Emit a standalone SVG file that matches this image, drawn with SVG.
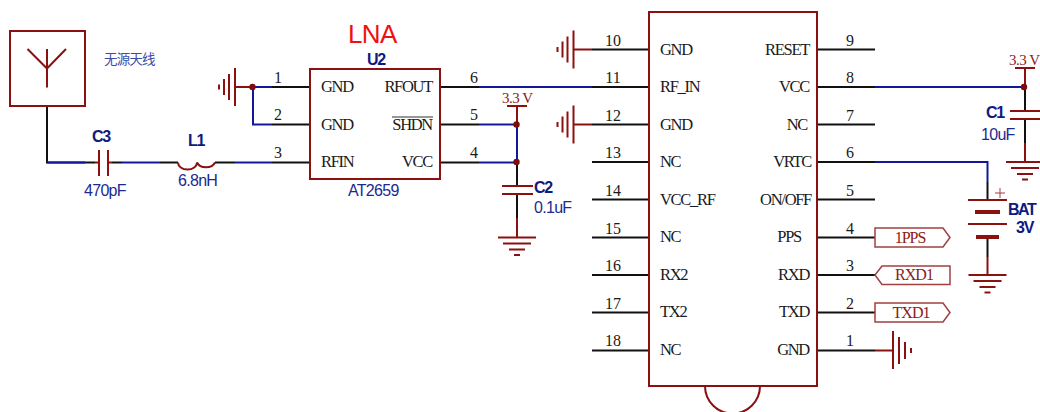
<svg xmlns="http://www.w3.org/2000/svg" width="1040" height="412" viewBox="0 0 1040 412">
<style>
text{font-family:"Liberation Serif","Noto Sans CJK SC",serif;white-space:pre}
.pn{font-size:16.500px;fill:#1a1a1a;letter-spacing:-1.300px}
.num{font-size:16px;fill:#1a1a1a;text-anchor:middle}
.e{text-anchor:end}
.des{font-family:"Liberation Sans",sans-serif;font-size:16px;font-weight:700;fill:#0e1a80;letter-spacing:-1.200px}
.val{font-family:"Liberation Sans",sans-serif;font-size:16px;fill:#1c2a90;letter-spacing:-.7px}
.title{font-family:"Liberation Sans",sans-serif;font-size:26px;fill:#f01010;letter-spacing:-.6px}
.cn{font-size:13.500px;fill:#3c4aa8;letter-spacing:-.8px}
.pwr{font-size:15px;fill:#8b1a1a;letter-spacing:-.5px}
.port{font-size:16px;fill:#8b1a1a;text-anchor:middle;letter-spacing:-1px}
.box{fill:#fff;stroke:#8b1010;stroke-width:2}
.portbox{fill:#fff;stroke:#a04040;stroke-width:1.500}
.k,.b,.r{fill:none;stroke-width:2}
.k{stroke:#111}
.b{stroke:#12189a}
.r{stroke:#8b1010}
.thick{stroke-width:4}
.j{fill:#7d0b0b}
</style>
<defs>
<g id="gndL"><path class="r" d="M0-19V19M-6-13V13M-11-8V8M-16-2.500V2.500"/></g>
<g id="gndD"><path class="r" d="M-19 0H19M-14 6H14M-8 12H8M-3 17.500H3"/></g>
</defs>
<g id="connectors">
<path class="k" d="M47 106V162.500H85M85 162.500H95M112 162.500H122M160 162.500H178M215 162.500H235M272 162.500H310"/>
<path class="b" d="M47 162.500H85M122 162.500H160M235 162.500H272"/>
<path class="r" d="M95 162.500H99M108 162.500H112"/>
<path class="r" d="M236 87H252.500"/>
<path class="b" d="M252.500 87H272M253 87V124.500H272"/>
<path class="k" d="M272 87H310M272 124.500H310"/>
<path class="k" d="M440 87H479M440 124.500H479M440 162.500H479"/>
<path class="b" d="M479 87H592M479 124.500H517M479 162.500H517M517 124.500V162.500"/>
<path class="r" d="M517 106V124.500"/>
<path class="k" d="M517 162.500V186M517 194V218"/>
<path class="r" d="M517 218V238"/>
<path class="k" d="M592 49.500H649M592 87H649M592 124.500H649M592 162H649M592 199.500H649M592 237.500H649M592 275H649M592 312.500H649M592 350.500H649"/>
<path class="k" d="M817 49.500H875M817 87H875M817 124.500H875M817 162H875M817 199.500H875M817 237.500H875M817 275H875M817 312.500H875M817 350.500H875"/>
<path class="r" d="M574 49.500H592M574 124.500H592M875 350.500H893"/>
<path class="b" d="M875 87H1024M875 162H987.500V182"/>
<path class="r" d="M1025 68V87"/>
<path class="k" d="M1025 87V111M1025 119V143M987.500 182V200M987.500 238V257"/>
<path class="r" d="M1025 143V162M987.500 257V275"/>
</g>
<g id="antenna">
<rect class="box" x="10" y="31" width="75" height="75"/>
<path class="r" d="M27.500 49L47 68.500L66 49M47 49V87.500"/>
<text class="cn" x="104" y="64">无源天线</text>
</g>
<g id="C3">
<path class="r" d="M99 150V176M108 150V176"/>
<text class="des" x="92" y="142">C3</text>
<text class="val" x="84" y="196">470pF</text>
</g>
<g id="L1">
<path class="r" d="M178 162.500a9.500 7 0 0 0 19 0a9.500 7 0 0 0 18 0"/>
<text class="des" x="188" y="146">L1</text>
<text class="val" x="178" y="186">6.8nH</text>
</g>
<g id="gnd-u2"><use href="#gndL" x="235" y="87"/><circle class="j" cx="252.500" cy="87" r="3.200"/></g>
<g id="U2">
<rect class="box" x="310" y="69" width="130" height="110"/>
<text class="title" x="348" y="43">LNA</text>
<text class="des" x="367" y="65">U2</text>
<text class="val" x="348" y="196">AT2659</text>
<text class="pn" x="321" y="92">GND</text><text class="pn" x="321" y="130">GND</text><text class="pn" x="321" y="167">RFIN</text>
<text class="pn e" x="432" y="92">RFOUT</text><text class="pn e" x="432" y="130">SHDN</text><text class="pn e" x="432" y="167">VCC</text>
<path d="M392 117H433" stroke="#333" stroke-width="1" fill="none"/>
<text class="num" x="278" y="83">1</text><text class="num" x="278" y="120">2</text><text class="num" x="278" y="158">3</text>
<text class="num" x="474" y="83">6</text><text class="num" x="474" y="120">5</text><text class="num" x="474" y="158">4</text>
</g>
<g id="pwr-u2">
<path class="r" d="M507 106H527"/>
<text class="pwr" x="502" y="103">3.3 V</text>
<circle class="j" cx="516.500" cy="124.500" r="3.200"/><circle class="j" cx="516.500" cy="162" r="3.200"/>
</g>
<g id="C2">
<path class="r" d="M502 186H533M502 194H533"/>
<text class="des" x="534" y="193">C2</text>
<text class="val" x="534" y="213">0.1uF</text>
<use href="#gndD" x="517" y="237.500"/>
</g>
<g id="gnd-10"><use href="#gndL" x="573.500" y="49.500"/></g>
<g id="gnd-12"><use href="#gndL" x="573.500" y="124.500"/></g>
<g id="module">
<rect class="box" x="649" y="12" width="168" height="374"/>
<path class="r" d="M705 386a27.500 27.500 0 0 0 55 0"/>
<text class="pn" x="660" y="55">GND</text><text class="pn" x="660" y="92">RF_IN</text><text class="pn" x="660" y="130">GND</text><text class="pn" x="660" y="167">NC</text><text class="pn" x="660" y="205">VCC_RF</text><text class="pn" x="660" y="242">NC</text><text class="pn" x="660" y="280">RX2</text><text class="pn" x="660" y="317">TX2</text><text class="pn" x="660" y="355">NC</text>
<text class="pn e" x="809" y="55">RESET</text><text class="pn e" x="809" y="92">VCC</text><text class="pn e" x="807" y="130">NC</text><text class="pn e" x="811" y="167">VRTC</text><text class="pn e" x="811" y="205">ON/OFF</text><text class="pn e" x="801" y="242">PPS</text><text class="pn e" x="809" y="280">RXD</text><text class="pn e" x="809" y="317">TXD</text><text class="pn e" x="809" y="355">GND</text>
<text class="num" x="613" y="46">10</text><text class="num" x="613" y="83">11</text><text class="num" x="613" y="121">12</text><text class="num" x="613" y="158">13</text><text class="num" x="613" y="196">14</text><text class="num" x="613" y="234">15</text><text class="num" x="613" y="271">16</text><text class="num" x="613" y="309">17</text><text class="num" x="613" y="346">18</text>
<text class="num" x="850" y="46">9</text><text class="num" x="850" y="83">8</text><text class="num" x="850" y="121">7</text><text class="num" x="850" y="158">6</text><text class="num" x="850" y="196">5</text><text class="num" x="850" y="234">4</text><text class="num" x="850" y="271">3</text><text class="num" x="850" y="309">2</text><text class="num" x="850" y="346">1</text>
</g>
<g id="port-1PPS"><path class="portbox" d="M875 228H943L950 237.500L943 247H875Z"/><text class="port" x="910" y="243">1PPS</text></g>
<g id="port-RXD1"><path class="portbox" d="M950 266H882L875 275L882 284.500H950Z"/><text class="port" x="914" y="280">RXD1</text></g>
<g id="port-TXD1"><path class="portbox" d="M875 303H943L950 312.500L943 322H875Z"/><text class="port" x="911" y="318">TXD1</text></g>
<g id="gnd-1"><path class="r" d="M893 331V369M899 337V364M905 342V359M911 348V353"/></g>
<g id="C1">
<circle class="j" cx="1024" cy="87" r="3.200"/>
<path class="r" d="M1015 68H1035M1010 111H1040M1010 119H1040"/>
<text class="pwr" x="1009" y="65">3.3 V</text>
<text class="des" x="986" y="118">C1</text>
<text class="val" x="981" y="140">10uF</text>
<use href="#gndD" x="1025" y="162"/>
</g>
<g id="BAT">
<path class="r" d="M968 200H1007M968 224H1007"/>
<path class="r thick" d="M975 212H1000M976 237H999"/>
<path d="M995 193H1005M1000 188V198" stroke="#a04040" stroke-width="1" fill="none"/>
<text class="des" x="1008" y="215" style="letter-spacing:-1.500px">BAT</text>
<text class="des" x="1016" y="233">3V</text>
<use href="#gndD" x="987.500" y="275"/>
</g>
</svg>
